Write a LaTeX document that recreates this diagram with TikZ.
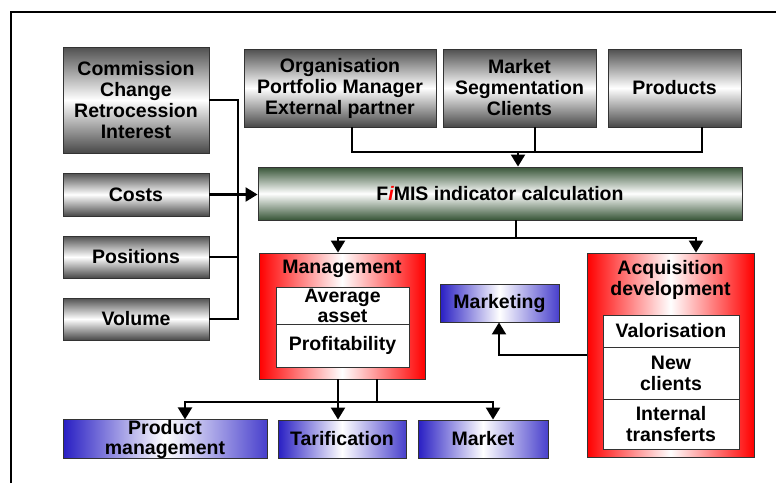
\documentclass[tikz,border=0pt]{standalone}
\usepackage{fontspec}
\setmainfont{Liberation Sans}
\usetikzlibrary{arrows.meta}
\definecolor{boxgrey}{RGB}{80,80,80}
\definecolor{boxgreen}{RGB}{55,85,55}
\definecolor{boxred}{RGB}{255,0,0}
\definecolor{boxblue}{RGB}{40,30,195}
\tikzset{
  box/.style={draw=black!80, line width=0.9pt, inner sep=0pt, align=center,
    font=\fontsize{19.5}{21}\selectfont\bfseries},
  greybox/.style={box, top color=boxgrey, bottom color=boxgrey!90!black, middle color=white},
  greenbox/.style={box, top color=boxgreen, bottom color=boxgreen, middle color=white},
  redbox/.style={box, left color=boxred, right color=boxred, middle color=white},
  bluebox/.style={box, left color=boxblue, right color=boxblue!85, middle color=white},
  whitebox/.style={box, fill=white},
  title/.style={inner sep=0pt, align=center, font=\fontsize{19.5}{21}\selectfont\bfseries},
  conn/.style={line width=2.2pt},
  arrow/.style={conn, -{Triangle[width=14pt,length=12pt]}}
}
\begin{document}
\begin{tikzpicture}[x=1pt,y=-1pt]
        \useasboundingbox (0,0) rectangle (776,483);
        \draw[line width=1.4pt] (11,483) -- (11,12) -- (776,12);
        % inputs on the left
        \node[greybox, minimum width=146pt, minimum height=106pt] (comm) at (136,100) {Commission\\Change\\Retrocession\\Interest};
        \node[greybox, minimum width=146pt, minimum height=43pt] (costs) at (136,194.5) {Costs};
        \node[greybox, minimum width=146pt, minimum height=42pt] (pos) at (136,257) {Positions};
        \node[greybox, minimum width=146pt, minimum height=42pt] (vol) at (136,319) {Volume};
        % inputs on top
        \node[greybox, minimum width=192pt, minimum height=78pt] (org) at (340,88) {Organisation\\Portfolio Manager\\External partner};
        \node[greybox, minimum width=153pt, minimum height=78pt] (mkt) at (519.5,88) {Market\\Segmentation\\Clients};
        \node[greybox, minimum width=133pt, minimum height=78pt] (prod) at (674.5,88) {Products};
        \node[greenbox, minimum width=484pt, minimum height=53pt] (fimis) at (500,193.5) {F{\color{red}\itshape i}MIS indicator calculation};
        % management
        \node[redbox, minimum width=166pt, minimum height=126pt] (mgmt) at (342,316) {};
        \node[title] (mgmttitle) at (342,269) {Management};
        \node[whitebox, minimum width=133pt, minimum height=37pt, font=\fontsize{19.5}{20}\selectfont\bfseries] (avg) at (342.5,305.5) {Average\\asset};
        \node[whitebox, minimum width=133pt, minimum height=43pt] (profit) at (342.5,345.5) {Profitability};
        % acquisition
        \node[redbox, minimum width=167pt, minimum height=204pt] (acq) at (670.5,355) {};
        \node[title] (acqtitle) at (670.5,280) {Acquisition\\development};
        \node[whitebox, minimum width=136pt, minimum height=32pt] (valor) at (671,331) {Valorisation};
        \node[whitebox, minimum width=136pt, minimum height=52pt] (newcl) at (671,373) {New\\clients};
        \node[whitebox, minimum width=136pt, minimum height=50pt] (intern) at (671,424) {Internal\\transferts};
        % outputs
        \node[bluebox, minimum width=119pt, minimum height=38pt] (marketing) at (499.5,303) {Marketing};
        \node[bluebox, minimum width=204pt, minimum height=38pt, font=\fontsize{19.5}{20}\selectfont\bfseries] (prodm) at (165,439) {Product\\management};
        \node[bluebox, minimum width=128pt, minimum height=38pt] (tarif) at (342,439) {Tarification};
        \node[bluebox, minimum width=130pt, minimum height=38pt] (market) at (483,439) {Market};
        % left bus
        \coordinate (lt) at (238,100);
        \coordinate (lb) at (238,319);
        \draw[conn] (comm.east) -- (lt) -- (lb) -- (vol.east);
        \draw[conn] (pos.east) -- (pos.east -| lt);
        \draw[arrow] (costs.east) -- (fimis.west |- costs.east);
        % top bus
        \coordinate (t1) at (352,152);
        \coordinate (t2) at (535,152);
        \coordinate (t3) at (702,152);
        \coordinate (tin) at (518,152);
        \draw[conn] (t1 |- org.south) -- (t1) -- (t3) -- (t3 |- prod.south);
        \draw[conn] (t2 |- mkt.south) -- (t2);
        \draw[arrow] (tin) -- (tin |- fimis.north);
        % from the indicator calculation
        \coordinate (s) at (516,238);
        \coordinate (m1) at (338,238);
        \coordinate (a1) at (696,238);
        \draw[arrow] (s |- fimis.south) -- (s) -- (m1) -- (m1 |- mgmt.north);
        \draw[arrow] (s) -- (a1) -- (a1 |- acq.north);
        \draw[arrow] (acq.west |- 0,355) -| (marketing.south -| 499,0);
        % from management
        \coordinate (b0) at (377,402);
        \coordinate (b1) at (185,402);
        \coordinate (b2) at (493,402);
        \draw[arrow] (m1 |- mgmt.south) -- (m1 |- tarif.north);
        \draw[conn] (b0 |- mgmt.south) -- (b0);
        \draw[arrow] (b0) -- (b1) -- (b1 |- prodm.north);
        \draw[arrow] (b0) -- (b2) -- (b2 |- market.north);
\end{tikzpicture}
\end{document}
